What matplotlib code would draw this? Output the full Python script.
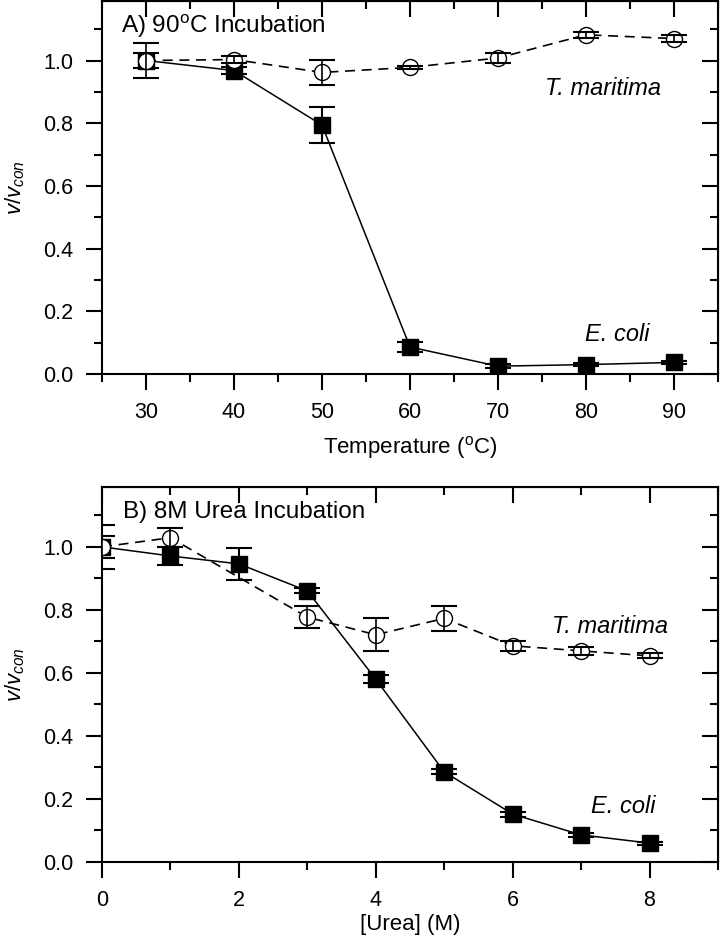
import matplotlib
matplotlib.use("Agg")
import matplotlib.pyplot as plt
from matplotlib.ticker import MultipleLocator

plt.rcParams['font.family'] = ['Liberation Sans', 'DejaVu Sans']
plt.rcParams['mathtext.fontset'] = 'custom'
plt.rcParams['mathtext.rm'] = 'Liberation Sans'
plt.rcParams['mathtext.it'] = 'Liberation Sans:italic'

# Panel A: temperature
temp_x = [30, 40, 50, 60, 70, 80, 90]
temp_ecoli = [1.00, 0.968, 0.794, 0.086, 0.025, 0.030, 0.037]
temp_ecoli_err = [0.025, 0.010, 0.058, 0.017, 0.006, 0.006, 0.006]
temp_tmar = [1.00, 1.003, 0.962, 0.978, 1.008, 1.082, 1.070]
temp_tmar_err = [0.055, 0.010, 0.040, 0.005, 0.015, 0.010, 0.010]

# Panel B: urea
urea_ecoli_x = [0, 1, 2, 3, 4, 5, 6, 7, 8]
urea_ecoli = [1.00, 0.971, 0.946, 0.860, 0.580, 0.286, 0.152, 0.086, 0.060]
urea_ecoli_err = [0.035, 0.030, 0.050, 0.008, 0.012, 0.008, 0.008, 0.006, 0.005]
urea_tmar_x = [0, 1, 3, 4, 5, 6, 7, 8]
urea_tmar = [1.00, 1.029, 0.777, 0.721, 0.773, 0.686, 0.670, 0.654]
urea_tmar_err = [0.070, 0.030, 0.036, 0.053, 0.040, 0.015, 0.012, 0.008]

fig = plt.figure(figsize=(7.2, 9.39), dpi=100)
ax1 = fig.add_axes([0.1417, 0.6017, 0.8555, 0.3973])
ax2 = fig.add_axes([0.1417, 0.0820, 0.8555, 0.3994])

TICK_FS = 15.5
TXT_FS = 17.5
ITAL_FS = 17
LBL_FS = 16
MAJ_LEN = 11.5
MIN_LEN = 5.8


def draw(ax, xe, ye, ee, xt, yt, et):
    # E. coli
    ax.plot(xe, ye, '-', color='black', lw=1.1, zorder=2)
    ax.plot(xe, ye, 's', ms=11.5, mfc='black', mec='black', zorder=3)
    ax.errorbar(xe, ye, yerr=ee, fmt='none', ecolor='black', elinewidth=1.5,
                capsize=9.4, capthick=1.5, zorder=4)
    # T. maritima
    ax.plot(xt, yt, '--', color='black', lw=1.2, dashes=(6, 4), zorder=5)
    ax.plot(xt, yt, 'o', ms=11.5, mfc='white', mec='black', mew=1.0, zorder=6)
    ax.errorbar(xt, yt, yerr=et, fmt='none', ecolor='black', elinewidth=1.2,
                capsize=9.4, capthick=1.5, zorder=7)


def style(ax):
    for s in ax.spines.values():
        s.set_linewidth(1.5)
    ax.tick_params(axis='both', which='both', direction='out', width=1.5,
                   labelsize=TICK_FS, top=False, right=False, pad=9)
    ax.tick_params(which='major', length=MAJ_LEN)
    ax.tick_params(which='minor', length=MIN_LEN)
    ax.yaxis.set_minor_locator(MultipleLocator(0.1))
    ax.set_yticks([0.0, 0.2, 0.4, 0.6, 0.8, 1.0])
    ax.set_yticklabels(['0.0', '0.2', '0.4', '0.6', '0.8', '1.0'])
    ax.set_ylim(0, 1.19)
    sec_x = ax.secondary_xaxis('top')
    sec_x.tick_params(which='both', direction='in', width=1.5, labeltop=False)
    sec_x.tick_params(which='major', length=MAJ_LEN)
    sec_x.tick_params(which='minor', length=MIN_LEN)
    sec_y = ax.secondary_yaxis('right')
    sec_y.tick_params(which='both', direction='in', width=1.5, labelright=False)
    sec_y.tick_params(which='major', length=MAJ_LEN)
    sec_y.tick_params(which='minor', length=MIN_LEN)
    sec_y.set_yticks([0.0, 0.2, 0.4, 0.6, 0.8, 1.0])
    sec_y.yaxis.set_minor_locator(MultipleLocator(0.1))
    sec_y.set_yticklabels([])
    ax.set_ylabel(r'$v/v_{\mathit{con}}$', fontsize=LBL_FS)
    ax.yaxis.set_label_coords(-0.122, 0.5)
    return sec_x, sec_y


draw(ax1, temp_x, temp_ecoli, temp_ecoli_err, temp_x, temp_tmar, temp_tmar_err)
ax1.set_xlim(25, 95)
ax1.xaxis.set_minor_locator(MultipleLocator(5))
sx1, sy1 = style(ax1)
sx1.xaxis.set_major_locator(MultipleLocator(10))
sx1.xaxis.set_minor_locator(MultipleLocator(5))
ax1.set_xticks([30, 40, 50, 60, 70, 80, 90])
ax1.set_xlabel('Temperature ($\\mathregular{^o}$C)', fontsize=LBL_FS)
ax1.xaxis.set_label_coords(0.5, -0.160)
ax1.text(27.2, 1.11, 'A) 90$\\mathregular{^o}$C Incubation', fontsize=TXT_FS,
         ha='left', va='center')
ax1.text(75.3, 0.91, 'T. maritima', fontsize=ITAL_FS, style='italic',
         ha='left', va='center')
ax1.text(79.9, 0.125, 'E. coli', fontsize=ITAL_FS, style='italic',
         ha='left', va='center')

draw(ax2, urea_ecoli_x, urea_ecoli, urea_ecoli_err, urea_tmar_x, urea_tmar, urea_tmar_err)
ax2.set_xlim(0, 9)
ax2.xaxis.set_minor_locator(MultipleLocator(1))
sx2, sy2 = style(ax2)
sx2.xaxis.set_major_locator(MultipleLocator(2))
sx2.xaxis.set_minor_locator(MultipleLocator(1))
ax2.set_xticks([0, 2, 4, 6, 8])
ax2.set_xlabel('[Urea] (M)', fontsize=LBL_FS)
ax2.xaxis.set_label_coords(0.5, -0.138)
ax2.text(0.3, 1.11, 'B) 8M Urea Incubation', fontsize=TXT_FS,
         ha='left', va='center')
ax2.text(6.57, 0.746, 'T. maritima', fontsize=ITAL_FS, style='italic',
         ha='left', va='center')
ax2.text(7.14, 0.175, 'E. coli', fontsize=ITAL_FS, style='italic',
         ha='left', va='center')

fig.savefig('out.png', dpi=100)
